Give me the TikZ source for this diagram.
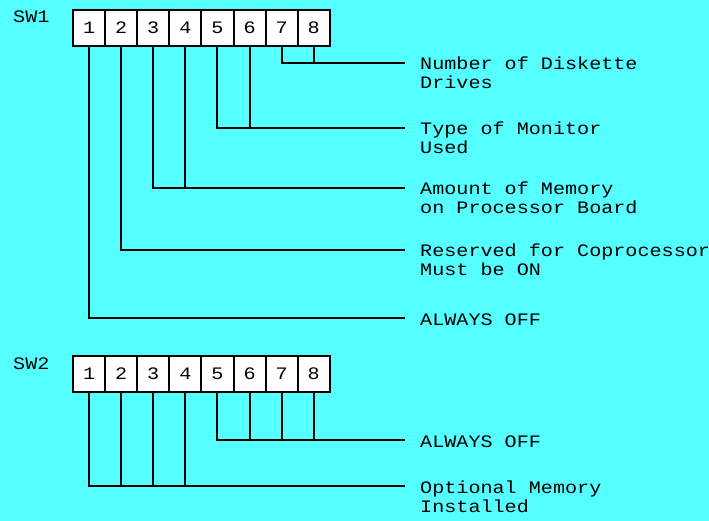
\documentclass[tikz,border=0pt]{standalone}
\usepackage{fontspec}
\setmonofont[FakeStretch=1.15]{Liberation Mono}
\usetikzlibrary{positioning}
\definecolor{cgacyan}{RGB}{85,255,255}

\tikzset{
  pixfont/.style={font=\ttfamily\fontsize{17.5}{19}\selectfont},
  cell/.style={draw, fill=white, line width=2pt, minimum width=32.1pt,
    minimum height=36pt, inner sep=0pt, pixfont},
  lbl/.style={anchor=base west, align=left, inner sep=0pt, pixfont},
  wire/.style={line width=2pt}
}

\begin{document}
\begin{tikzpicture}[x=1pt, y=-1pt]
\fill[cgacyan] (0,0) rectangle (709,521);
\useasboundingbox (0,0) rectangle (709,521);

% switch banks
\node[lbl] (sw1) at (13,23) {SW1};
\node[lbl] (sw2) at (13,369) {SW2};
\foreach \i in {1,...,8} {
  \node[cell] (a\i) at ({73+32.1*(\i-0.5)},28) {\i};
  \node[cell] (b\i) at ({73+32.1*(\i-0.5)},374) {\i};
}

% line ends
\coordinate (e78) at (405,63);
\coordinate (e56) at (405,128);
\coordinate (e34) at (405,188);
\coordinate (e2) at (405,250);
\coordinate (e1) at (405,318);
\coordinate (f58) at (405,440);
\coordinate (f14) at (405,486);

% labels (base = last line)
\node[lbl] (l78) at (420,89) {Number of Diskette\\Drives};
\node[lbl] (l56) at (420,154) {Type of Monitor\\Used};
\node[lbl] (l34) at (420,214) {Amount of Memory\\on Processor Board};
\node[lbl] (l2) at (420,276) {Reserved for Coprocessor\\Must be ON};
\node[lbl] (l1) at (420,325) {ALWAYS OFF};
\node[lbl] (m58) at (420,447) {ALWAYS OFF};
\node[lbl] (m14) at (420,512) {Optional Memory\\Installed};

% SW1 wiring
\draw[wire] (a7.south) |- (e78);
\draw[wire] (a8.south) -- (a8.south |- e78);
\draw[wire] (a5.south) |- (e56);
\draw[wire] (a6.south) -- (a6.south |- e56);
\draw[wire] (a3.south) |- (e34);
\draw[wire] (a4.south) -- (a4.south |- e34);
\draw[wire] (a2.south) |- (e2);
\draw[wire] (a1.south) |- (e1);

% SW2 wiring
\draw[wire] (b5.south) |- (f58);
\foreach \i in {6,7,8}
  \draw[wire] (b\i.south) -- (b\i.south |- f58);
\draw[wire] (b1.south) |- (f14);
\foreach \i in {2,3,4}
  \draw[wire] (b\i.south) -- (b\i.south |- f14);
\end{tikzpicture}
\end{document}
